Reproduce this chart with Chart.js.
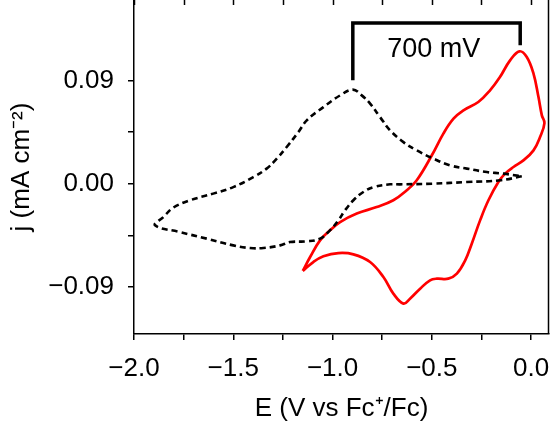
<!DOCTYPE html>
<html><head><meta charset="utf-8">
<script src="https://cdn.jsdelivr.net/npm/chart.js@4"></script>
<style>html,body{margin:0;padding:0;background:#fff}</style>
</head><body>
<canvas id="c" width="552" height="425"></canvas>
<script>
// Red CV (E in V vs Fc+/Fc, j in mA cm^-2)
const redE = [-1.150,-1.113,-1.063,-1.013,-0.962,-0.878,-0.778,-0.694,-0.626,-0.576,-0.500,-0.442,-0.391,-0.341,-0.266,-0.207,-0.157,-0.106,-0.059,-0.022,0.012,0.037,0.054,0.067,0.045,0.012,-0.039,-0.089,-0.131,-0.165,-0.215,-0.257,-0.299,-0.332,-0.374,-0.417,-0.475,-0.509,-0.559,-0.610,-0.643,-0.694,-0.744,-0.811,-0.895,-0.971,-1.046,-1.097,-1.150];
const redJ = [-0.0761,-0.0639,-0.0494,-0.0407,-0.0335,-0.0261,-0.0204,-0.0145,-0.0058,0.0029,0.0247,0.0436,0.0566,0.0639,0.0711,0.0813,0.0929,0.1074,0.1153,0.1103,0.0958,0.0754,0.0595,0.0528,0.0406,0.0290,0.0203,0.0145,0.0087,0.0014,-0.0145,-0.0320,-0.0523,-0.0668,-0.0784,-0.0828,-0.0828,-0.0842,-0.0915,-0.1002,-0.1045,-0.0958,-0.0814,-0.0683,-0.0616,-0.0605,-0.0633,-0.0683,-0.0761];
// Black dashed CV
const blackE = [-0.047,-0.156,-0.324,-0.492,-0.660,-0.710,-0.794,-0.845,-0.895,-0.937,-0.971,-1.013,-1.063,-1.130,-1.214,-1.264,-1.348,-1.416,-1.500,-1.634,-1.768,-1.894,-1.852,-1.802,-1.718,-1.601,-1.500,-1.399,-1.332,-1.281,-1.231,-1.172,-1.130,-1.046,-0.962,-0.898,-0.853,-0.811,-0.761,-0.710,-0.643,-0.576,-0.492,-0.408,-0.324,-0.223,-0.140,-0.047];
const blackJ = [0.0064,0.0029,0.0014,0.0000,-0.0006,-0.0006,-0.0030,-0.0073,-0.0145,-0.0232,-0.0320,-0.0407,-0.0479,-0.0503,-0.0509,-0.0538,-0.0561,-0.0561,-0.0538,-0.0479,-0.0422,-0.0363,-0.0291,-0.0209,-0.0145,-0.0087,-0.0030,0.0057,0.0131,0.0218,0.0319,0.0450,0.0551,0.0667,0.0769,0.0819,0.0769,0.0697,0.0580,0.0464,0.0362,0.0290,0.0218,0.0159,0.0131,0.0101,0.0087,0.0064];
// Peak-separation bracket
const bracketE = [-0.898,-0.898,-0.055,-0.055];
const bracketJ = [0.0900,0.1399,0.1399,0.1205];
const bracketLabel = '700 mV';
const bracketLabelE = -0.49;
const bracketLabelJ = 0.117;
// Ticks
const xTicks = [-2.0,-1.75,-1.5,-1.25,-1.0,-0.75,-0.5,-0.25,0.0];
const xLabels = ['\u22122.0','','\u22121.5','','\u22121.0','','\u22120.5','','0.0'];
const yTicks = [-0.09,-0.045,0,0.045,0.09];
const yLabels = ['\u22120.09','','0.00','','0.09'];

const pts = (xs, ys) => xs.map((x, i) => ({x, y: ys[i]}));
const FONT = 'Liberation Sans, Arial, Helvetica, sans-serif';

const framePlugin = {
  id: 'frame',
  afterDraw(chart) {
    const {ctx, chartArea: a, scales} = chart;
    ctx.save();
    ctx.strokeStyle = '#000';
    ctx.lineWidth = 1.5;
    ctx.beginPath();
    ctx.moveTo(a.right - 0.5, a.top);
    ctx.lineTo(a.right - 0.5, a.bottom);
    ctx.stroke();
    // inward top ticks
    ctx.beginPath();
    xTicks.forEach(v => {
      const px = Math.round(scales.x.getPixelForValue(v)) + 0.5;
      ctx.moveTo(px, a.top);
      ctx.lineTo(px, a.top + 5);
    });
    ctx.stroke();
    // bracket label
    ctx.fillStyle = '#000';
    ctx.font = '27px ' + FONT;
    ctx.textAlign = 'center';
    ctx.textBaseline = 'middle';
    ctx.fillText(bracketLabel, scales.x.getPixelForValue(bracketLabelE), scales.y.getPixelForValue(bracketLabelJ));
    ctx.restore();
  }
};

new Chart(document.getElementById('c'), {
  type: 'scatter',
  data: {
    datasets: [
      {label: 'dashed', data: pts(blackE, blackJ), showLine: true, borderColor: '#000', borderWidth: 2.6, borderDash: [6, 4], pointRadius: 0, tension: 0.4, fill: false},
      {label: 'red', data: pts(redE, redJ), showLine: true, borderColor: '#ff0000', borderWidth: 2.7, pointRadius: 0, tension: 0.4, fill: false},
      {label: 'bracket', data: pts(bracketE, bracketJ), showLine: true, borderColor: '#000', borderWidth: 3.5, pointRadius: 0, tension: 0, borderJoinStyle: 'miter', borderCapStyle: 'butt', fill: false}
    ]
  },
  options: {
    responsive: false,
    animation: false,
    devicePixelRatio: 1,
    layout: {padding: {top: 0, right: 3, left: 0, bottom: 0}},
    plugins: {legend: {display: false}, tooltip: {enabled: false}},
    scales: {
      x: {
        type: 'linear', min: -2.0, max: 0.09,
        afterBuildTicks: s => { s.ticks = xTicks.map(v => ({value: v})); },
        afterFit: s => { s.height = 91; s.paddingLeft = 0; s.paddingRight = 0; },
        ticks: {callback: (v, i) => xLabels[i], font: {family: FONT, size: 26}, color: '#000', padding: 13, maxRotation: 0, autoSkip: false},
        grid: {drawOnChartArea: false, drawTicks: true, tickLength: 6, color: '#000', lineWidth: 1.5},
        border: {display: true, color: '#000', width: 1.5},
        title: {display: true, text: 'E (V vs Fc\u207A/Fc)', font: {family: FONT, size: 26}, color: '#000', padding: {top: 0, bottom: 1}}
      },
      y: {
        type: 'linear', min: -0.131, max: 0.16,
        afterBuildTicks: s => { s.ticks = yTicks.map(v => ({value: v})); },
        afterFit: s => { s.width = 134; s.paddingTop = 0; s.paddingBottom = 0; },
        ticks: {callback: (v, i) => yLabels[i], font: {family: FONT, size: 26}, color: '#000', padding: 14, autoSkip: false},
        grid: {drawOnChartArea: false, drawTicks: true, tickLength: 6, color: '#000', lineWidth: 1.5},
        border: {display: true, color: '#000', width: 1.5},
        title: {display: true, text: 'j (mA cm\u207B\u00B2)', font: {family: FONT, size: 26}, color: '#000', padding: {top: 6, bottom: 0}}
      }
    }
  },
  plugins: [framePlugin]
});
</script>
</body></html>
